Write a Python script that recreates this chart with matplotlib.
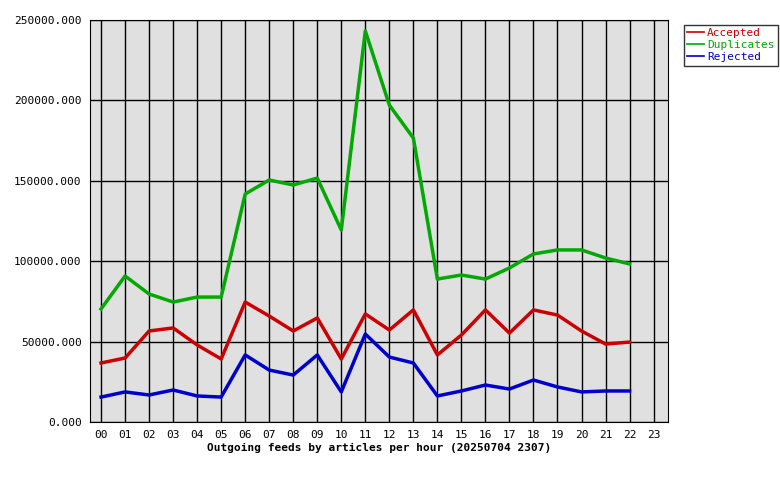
import matplotlib
matplotlib.use("Agg")
import matplotlib.pyplot as plt

hours = ["%02d" % h for h in range(24)]
accepted = [36700,39800,56600,58500,47900,39200,74600,65900,56600,64700,39200,67200,57200,69700,41700,54100,69700,55300,69700,66500,56600,48500,49700]
duplicates = [70300,90800,79600,74600,77700,77700,141800,150500,147400,151700,119400,243200,197100,176600,88900,91400,88900,95800,104500,107000,107000,102000,98300]
rejected = [15500,18700,16800,19900,16200,15500,41700,32300,29200,41700,18700,54700,40400,36700,16200,19300,23000,20500,26100,21800,18700,19300,19300]
yticks = [0,50000,100000,150000,200000,250000]

plt.rcParams['font.family'] = ['DejaVu Sans Mono']
fig = plt.figure(figsize=(7.8,4.8), dpi=100)
ax = fig.add_axes([90/780, 58/480, 578/780, 402/480])
ax.set_facecolor('#e0e0e0')
x = list(range(len(accepted)))
ax.plot(x, accepted, color='#cc0000', lw=2.5, label='Accepted')
ax.plot(x, duplicates, color='#00aa00', lw=2.5, label='Duplicates')
ax.plot(x, rejected, color='#0000cc', lw=2.5, label='Rejected')
ax.set_xlim(-0.46, 23.6)
ax.set_ylim(0, 250000)
ax.set_xticks(range(24))
ax.set_xticklabels(hours, fontsize=8)
ax.set_yticks(yticks)
ax.set_yticklabels(["%d.000" % v for v in yticks], fontsize=8)
ax.grid(True, color='black', lw=1)
ax.set_axisbelow(True)
ax.tick_params(length=0, pad=6)
ax.set_xlabel("Outgoing feeds by articles per hour (20250704 2307)", fontsize=8, fontweight='bold', labelpad=2)
leg = fig.legend(loc='upper left', bbox_to_anchor=(678/780, 1-19/480), fontsize=8, frameon=True,
                 fancybox=False, edgecolor='black', handlelength=1.5, borderpad=0.3, labelspacing=0.2, handletextpad=0.3)
leg.get_frame().set_linewidth(1)
for t, c in zip(leg.get_texts(), ['#cc0000','#00aa00','#0000cc']):
    t.set_color(c)
for l in leg.get_lines():
    l.set_linewidth(1.2)
fig.savefig("out.png", dpi=100)
